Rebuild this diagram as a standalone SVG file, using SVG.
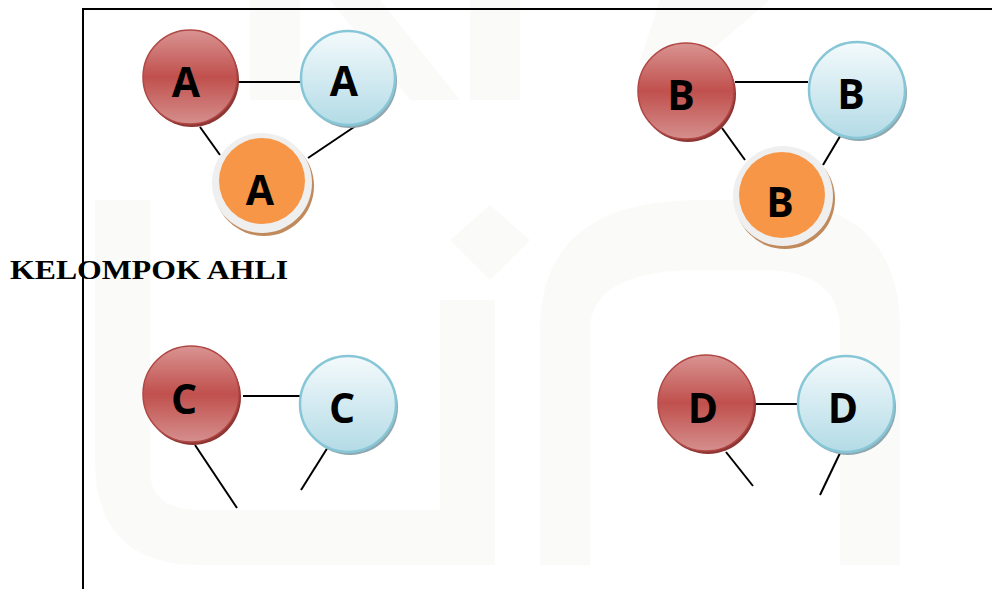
<svg xmlns="http://www.w3.org/2000/svg" width="992" height="589" viewBox="0 0 992 589">
<defs>
<linearGradient id="gRed" x1="0" y1="0" x2="0" y2="1">
<stop offset="0" stop-color="#d99492"/>
<stop offset="0.5" stop-color="#c0504d"/>
<stop offset="1" stop-color="#d58f8d"/>
</linearGradient>
<linearGradient id="gBlue" x1="0" y1="0" x2="0" y2="1">
<stop offset="0" stop-color="#f4fafc"/>
<stop offset="1" stop-color="#b3dbe6"/>
</linearGradient>
</defs>
<style>
.red{fill:url(#gRed);stroke:#b04744;stroke-width:1.5}
.redSh{fill:#8e3633}
.blue{fill:url(#gBlue);stroke:#86c6d6;stroke-width:2.5}
.blueSh{fill:#8fa7ae}
.ring{fill:#efefef}
.ringSh{fill:#c08a5c}
.orange{fill:#f79646}
.lbl{font-family:"Open Sans","Liberation Sans",sans-serif;font-weight:bold;font-size:41px;fill:#000;text-anchor:middle}
.conn line{stroke:#000;stroke-width:2}
.wm{fill:#fafaf8}
</style>
<rect width="992" height="589" fill="#fff"/>
<g id="watermark">
<path class="wm" d="M95 200 H150 V470 Q150 510 200 510 H440 V300 H495 V565 H200 Q95 565 95 460 Z"/>
<path class="wm" d="M540 565 V330 Q540 200 700 200 H760 Q900 200 900 330 V565 H840 V330 Q840 270 760 270 H700 Q590 270 590 330 V565 Z"/>
<path class="wm" d="M490 205 L530 240 L490 280 L450 240 Z"/>
<path class="wm" d="M250 0 H300 V100 H250 Z M330 0 H380 L460 100 H410 Z M470 0 H520 V100 H470 Z M560 0 H770 L700 60 H640 L660 0 Z"/>
</g>
<g id="connectors" class="conn">
<line x1="238" y1="82" x2="300" y2="82"/>
<line x1="200" y1="127" x2="220" y2="155"/>
<line x1="360" y1="123" x2="308" y2="158"/>
<line x1="735" y1="82" x2="808" y2="82"/>
<line x1="722" y1="128" x2="745" y2="160"/>
<line x1="842" y1="133" x2="823" y2="165"/>
<line x1="243" y1="396" x2="300" y2="396"/>
<line x1="195" y1="445" x2="237" y2="508"/>
<line x1="328" y1="447" x2="301" y2="490"/>
<line x1="755" y1="404" x2="798" y2="404"/>
<line x1="726" y1="452" x2="753" y2="486"/>
<line x1="841" y1="451" x2="820" y2="495"/>
</g>
<g id="nodeA1"><circle class="redSh" cx="192" cy="80" r="47"/><circle class="red" cx="190" cy="77" r="47"/><text class="lbl" x="186" y="97">A</text></g>
<g id="nodeA2"><circle class="blueSh" cx="350" cy="81" r="47"/><circle class="blue" cx="348" cy="78" r="47"/><text class="lbl" x="344" y="96">A</text></g>
<g id="nodeA3"><circle class="ringSh" cx="264" cy="186" r="50"/><circle class="ring" cx="262" cy="183" r="50"/><circle class="orange" cx="262" cy="181" r="43"/><text class="lbl" x="260" y="205">A</text></g>
<g id="nodeB1"><circle class="redSh" cx="688" cy="94" r="48"/><circle class="red" cx="686" cy="91" r="48"/><text class="lbl" x="681" y="110">B</text></g>
<g id="nodeB2"><circle class="blueSh" cx="859" cy="93" r="48"/><circle class="blue" cx="857" cy="90" r="48"/><text class="lbl" x="851" y="109">B</text></g>
<g id="nodeB3"><circle class="ringSh" cx="785" cy="199" r="50"/><circle class="ring" cx="783" cy="196" r="50"/><circle class="orange" cx="782" cy="195" r="43"/><text class="lbl" x="780" y="217">B</text></g>
<g id="nodeC1"><circle class="redSh" cx="193" cy="397" r="48"/><circle class="red" cx="191" cy="394" r="48"/><text class="lbl" x="184" y="414">C</text></g>
<g id="nodeC2"><circle class="blueSh" cx="350" cy="407" r="48"/><circle class="blue" cx="348" cy="404" r="48"/><text class="lbl" x="342" y="423">C</text></g>
<g id="nodeD1"><circle class="redSh" cx="708" cy="406" r="48"/><circle class="red" cx="706" cy="403" r="48"/><text class="lbl" x="703" y="423">D</text></g>
<g id="nodeD2"><circle class="blueSh" cx="848" cy="407" r="48"/><circle class="blue" cx="846" cy="404" r="48"/><text class="lbl" x="843" y="423">D</text></g>
<text id="title" x="10" y="279" font-family="'Liberation Serif','Times New Roman',serif" font-weight="bold" font-size="28" textLength="278" lengthAdjust="spacingAndGlyphs">KELOMPOK AHLI</text>
<g id="frame"><path d="M83 589 V9 H992" fill="none" stroke="#000" stroke-width="2"/></g>
</svg>
